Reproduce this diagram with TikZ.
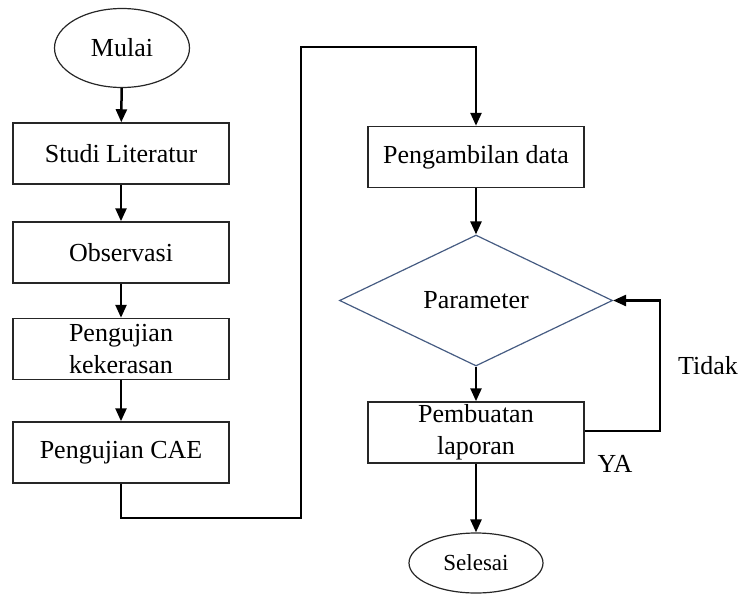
\documentclass[tikz,border=0pt]{standalone}
\usepackage{fontspec}
\setmainfont{Liberation Serif}
\usetikzlibrary{shapes.geometric,arrows.meta}
\definecolor{dmd}{RGB}{70,92,130}
\tikzset{
  box/.style={draw=black!85,line width=1.5pt,minimum width=216pt,minimum height=61pt,inner sep=0pt,align=center,font=\fontsize{26}{32}\selectfont},
  term/.style={draw=black!85,line width=1.2pt,ellipse,inner sep=0pt,font=\fontsize{26}{30}\selectfont},
  dec/.style={draw=dmd,line width=1.2pt,diamond,aspect=2.08,minimum width=273pt,minimum height=131pt,inner sep=0pt,font=\fontsize{26}{30}\selectfont},
  conn/.style={line width=2.5pt,-{Triangle[length=13pt,width=11pt]}},
  lbl/.style={inner sep=0pt,font=\fontsize{26}{30}\selectfont}
}
\begin{document}
\begin{tikzpicture}[x=1pt,y=-1pt]
\useasboundingbox (0,0) rectangle (741,594);
\node[term,minimum width=135pt,minimum height=79pt] (mulai) at (122,48) {Mulai};
\node[box] (studi) at (121,153.5) {Studi Literatur};
\node[box] (obs) at (121,252.5) {Observasi};
\node[box] (keker) at (121,349) {Pengujian\\kekerasan};
\node[box] (cae) at (121,452.5) {Pengujian CAE};
\node[box] (ambil) at (476,157) {Pengambilan data};
\node[dec] (param) at (476,300.5) {Parameter};
\node[box] (lapor) at (476,432.5) {Pembuatan\\laporan};
\node[term,minimum width=134pt,minimum height=60pt,font=\fontsize{23}{26}\selectfont] (selesai) at (476,563) {Selesai};
\node[lbl] (tidak) at (708,366) {Tidak};
\node[lbl] (ya) at (615,464) {YA};
\coordinate (c1) at (121,518);
\coordinate (c2) at (301,518);
\coordinate (c3) at (301,47);
\coordinate (c4) at (476,47);
\coordinate (f1) at (660,431);
\coordinate (f2) at (660,300.5);
\draw[conn] (mulai) -- (studi);
\draw[conn] (studi) -- (obs);
\draw[conn] (obs) -- (keker);
\draw[conn] (keker) -- (cae);
\draw[conn] (cae.south) -- (c1) -- (c2) -- (c3) -- (c4) -- (ambil.north);
\draw[conn] (ambil) -- (param);
\draw[conn] (param) -- (lapor);
\draw[conn] (lapor) -- (selesai);
\draw[conn] (lapor.east |- f1) -- (f1) -- (f2) -- (param.east);
\end{tikzpicture}
\end{document}
